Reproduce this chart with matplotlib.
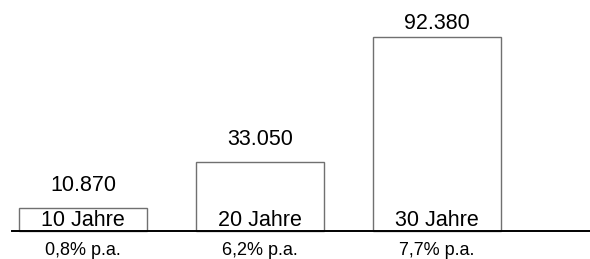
import matplotlib.pyplot as plt

plt.rcParams['font.family'] = ['Liberation Sans', 'DejaVu Sans']

# Daten
werte = [10870, 33050, 92380]
wert_labels = ['10.870', '33.050', '92.380']
jahre = ['10 Jahre', '20 Jahre', '30 Jahre']
renditen = ['0,8% p.a.', '6,2% p.a.', '7,7% p.a.']

fig = plt.figure(figsize=(5.9, 2.59), dpi=100)
ax = fig.add_axes([0, 0, 1, 1])

x = range(len(werte))
ax.bar(x, werte, width=0.723, facecolor='white', edgecolor='#707070', linewidth=1.0, zorder=2)

# Grundlinie
ax.plot([-0.4, 2.87], [0, 0], color='black', linewidth=1.4, zorder=3)

for i, v in enumerate(werte):
    # Beschriftung oben, beim höchsten Balken etwas näher dran (Platz)
    ax.text(i, min(v + 8100, 96150), wert_labels[i], ha='center', va='baseline', fontsize=15.5)
    ax.text(i, 2150, jahre[i], ha='center', va='baseline', fontsize=15.5)
    ax.text(i, -11300, renditen[i], ha='center', va='baseline', fontsize=13)

ax.set_xlim(-0.469, 2.864)
ax.set_ylim(-13330, 110000)
ax.axis('off')

fig.savefig('out.png', dpi=100)
